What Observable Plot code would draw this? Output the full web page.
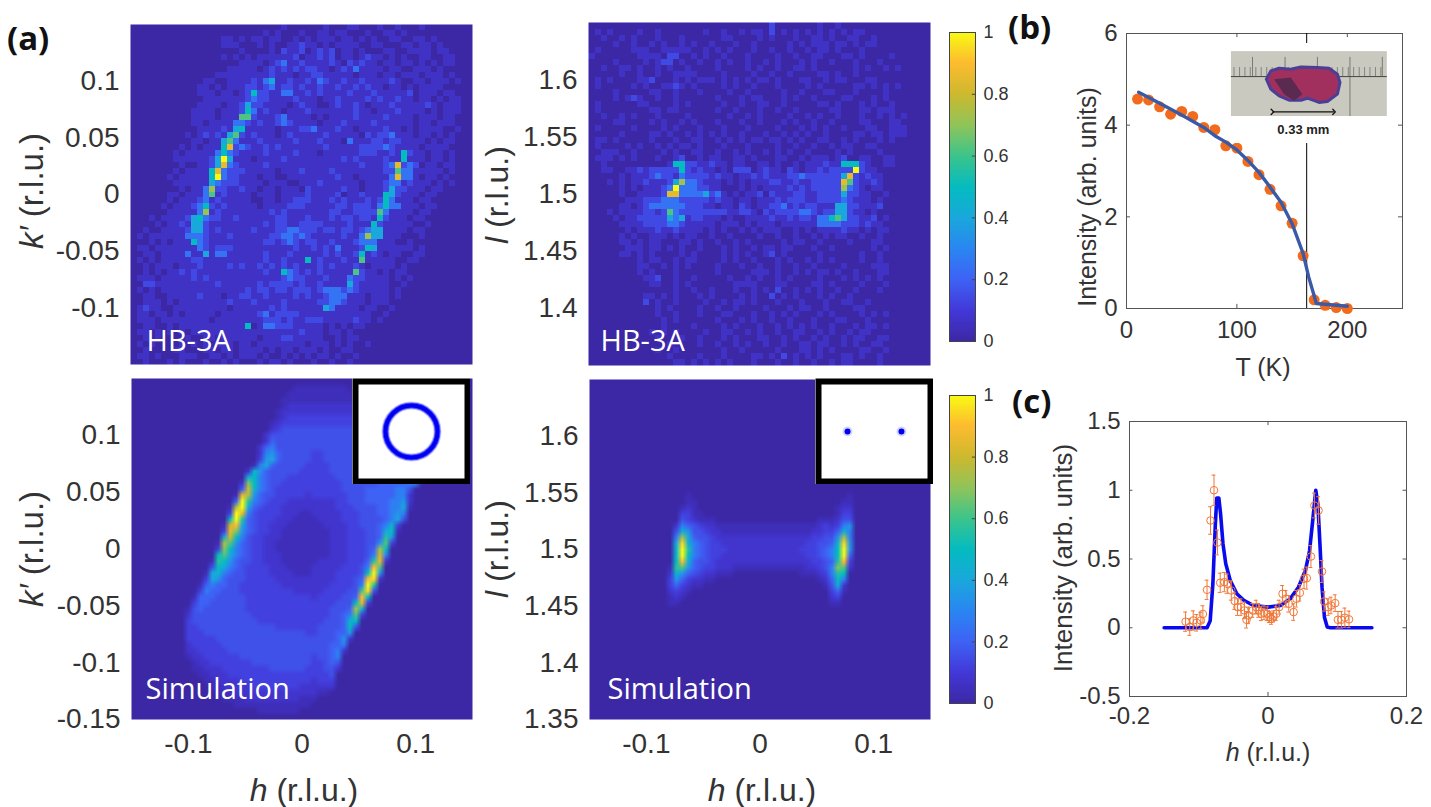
<!DOCTYPE html>
<html lang="en">
<head>
<meta charset="UTF-8">
<title>Magnetic scattering maps</title>
<style>
  html, body { margin: 0; background: #fff; overflow: hidden; }
  #page { position: relative; width: 1431px; height: 807px; font-family: "Liberation Sans", sans-serif; color: #333; }
  #page > * { position: absolute; }
  .lab { white-space: nowrap; transform: translate(-50%, -50%); }
  .tag { font-family: "Open Sans", sans-serif; font-weight: 700; line-height: 1; color: #111; }
</style>
<script src="https://cdn.jsdelivr.net/npm/d3@7"></script>
<script src="https://cdn.jsdelivr.net/npm/@observablehq/plot@0.6"></script>
</head>
<body>
<div id="page"></div>
<script>
// colormap, 0 to 1 in steps of 0.1
const cmap = ["#3c28a5", "#4338d8", "#3e62f5", "#2a86f2", "#1aa8dc", "#04bcc0", "#3cc48c", "#90c45a", "#cdb92e", "#fdbb30", "#f9fa14"];

// what each char in the map rows stands for
const expLevels = [0, .06, .14, .25, .4, .5, .62, .72, .85, 1];
const simLevels = [0, .04, .08, .12, .16, .2, .28, .34, .4, .45, .5, .56, .62, .68, .74, .8, .85, .9, .95, 1];

// HB-3A h-k' map, one char per cell, rows from the top
const expHK = [
"0000000000 0000000000 0000010000 0010001100 0100100010 0000000",
"0000000000 0000000000 0010100010 0110110001 0011010000 0000000",
"0000000000 0000011010 1101100101 0111011010 1001100110 1000000",
"0000000000 0000011100 0101001121 1010111100 1100011011 0100000",
"0000000000 0000000010 0001021120 1212011010 0011001111 0110000",
"0000000000 0000010101 0111111201 1212011012 1101010011 0011000",
"0000000000 0000000011 1101231121 1112102121 1011011010 1011000",
"0000000000 0000001111 1012121212 2110121311 1101100111 0100000",
"0000000000 0000111111 1112111011 2211111011 1011011101 1101000",
"0000000000 0011001111 2134112112 1321121121 1112100110 1110100",
"0000000000 0110101112 2123122121 1211211212 1101101011 1100000",
"0000000000 0111011012 5221133112 1211112111 2111112011 1011000",
"0000000000 0011111112 3221111211 1011211112 1211211011 0101100",
"0000000000 0111101124 2211110121 1001211210 1112111112 1011100",
"0000000000 1111011125 3121101112 1111111211 0111211110 1011100",
"0000000000 1111011166 2111231111 0101111211 1121111011 1011000",
"0000000000 1101111332 1211232111 1011121111 2111111011 0111000",
"0000000000 0111121451 1111011122 3111211011 1121101011 1100100",
"0000000001 0121214621 2111012111 1121111102 1223111011 0101000",
"0000000000 1101146311 1211111211 1211103111 2212211110 1011000",
"0000000010 1011158232 1121211111 1121111122 2232111101 1110000",
"0000000101 1111353211 1121111211 1011111122 2112152110 1101000",
"0000000111 1112494111 0111121111 1111121211 1121151110 1101000",
"0000000010 0112483211 1121111111 1111111121 1123823201 1011000",
"0000000101 1115832221 1111011121 1112111111 1122633111 1101000",
"0000001011 1115932211 1011001111 1111211011 1113833101 1010000",
"0000000111 1114322211 1101110011 1211111101 1123312111 0101000",
"0000000010 1137221121 1011011102 1111121101 1124221110 1100000",
"0000001101 1136121111 0111011112 1111201121 1154211101 1000000",
"0000001011 1231211111 0011011222 1112121112 1253111011 0000000",
"0000010111 2352121111 1011112221 1111221222 1353311101 1000000",
"0000001111 1371211111 1112121111 1112211222 2631111011 0000000",
"0001011112 4532211211 1111221112 1112122122 1521110110 0000000",
"0000101121 4421111111 1121221122 2211112111 5211111001 0000000",
"0010011112 4421211111 2111223322 2122122123 4411110110 0000000",
"0101111113 3321112111 1112233232 1111121137 4411100010 0000000",
"0001010111 5321111111 1122123212 2112111233 3111001000 0000000",
"0110111111 1321222111 1111111211 2121311125 4111111010 0000000",
"0011011113 1141331111 1121112111 1121211251 2101100110 0000000",
"0101011111 2211111111 1121121115 1211121161 1111001100 0000000",
"0010111011 1211112121 1212121211 1212111210 1111010000 0000000",
"0010101121 2111111111 1121153212 1211111621 1010110000 0000000",
"0111011111 2121111111 1111123221 1121113221 1110101000 0000000",
"0022111111 1111211111 1212222121 1211114211 1110010000 0000000",
"0101011111 1111111112 1221221222 1233323211 1110100000 0000000",
"0011001111 1211101122 1121111212 1123331110 1110100000 0000000",
"0011101011 1111112111 2111121111 1223321110 1110000000 0000000",
"0121100111 1111110111 1112121111 1143111101 1001000000 0000000",
"0110110101 1111011111 1231222211 1111111111 0010000000 0000000",
"0111011111 1110111111 1122212112 2211111211 0100000000 0000000",
"0011001011 1111111115 0133222111 1101010110 0000000000 0000000",
"0110101010 1111111111 1111111121 1101101000 0000000000 0000000",
"0010100001 0011011111 1011122111 1100101100 0000000000 0000000",
"0101000010 1010111011 0111111110 1110101001 0000000000 0000000",
"0010000110 0011011011 1101011011 1010011000 0000000000 0000000",
"0110100011 1001101011 1010010101 0110100100 0000000000 0000000",
"0010001010 0010010100 0101101000 1001001000 0000000000 0000000"
];

// HB-3A h-l map
const expHL = [
"0000000000 0000000000 0000000000 2000000010 0100000000 0000000",
"0101000010 0100000001 0010010110 2010101010 1010110000 0000000",
"0010010100 0100010000 0011000010 1000100110 1001100100 0000000",
"0000100100 1010010100 1000100100 0001010111 0110101100 0000000",
"0100000111 0011111001 0101000100 1001001011 0100010000 0000000",
"1000000011 1102200101 0010001000 0100100110 0011010000 1000000",
"0000100001 0122010010 0101001001 0100010100 1000100010 0000000",
"0010011010 0101001000 0100001010 0100110100 0000101001 0100000",
"0000010010 0100111100 0010000100 1001000011 0100100000 0000000",
"0101000011 2000101011 1010101011 0100011001 0110001100 0000000",
"0100000101 0011210100 0010100100 0100001010 0000110101 0100000",
"0000100000 1100100010 0001001000 0010010001 1000100001 0000000",
"0000101210 0100100000 0100010110 0010100100 0011000101 0000000",
"0100000011 0000101000 0010010011 0010000011 0100010100 1000000",
"0100000000 1101100000 0100100010 0100100000 1100011011 1000000",
"0010010100 0100001000 0001001010 0001001010 0100010010 1010000",
"0000110000 1010010100 0100010010 0010100100 1000011000 1100000",
"0100000100 0010100010 0010001000 0100010101 0010001100 1110000",
"0000010000 1101001010 1010010001 0010101001 0000110110 1110000",
"0110100000 1000100110 0101010110 1101010011 0010100010 1000000",
"0100001010 0101011010 0010001000 0100100100 1011001100 0000000",
"0011100100 0010100110 0100101001 0101001000 0101000010 0000000",
"0111010100 0100120010 1100110100 0110010111 0120011001 1000000",
"0010000000 0001552211 2110110011 0100101112 1155521001 1000000",
"0011001121 2222252121 1010222012 1102101121 2222921100 0000000",
"0000010111 2322132222 1211011212 1112232222 2248212110 0000000",
"0001010112 1112473321 1101010111 2211211222 2286211210 0000000",
"0000010101 1123933322 1100010101 1112121222 2273210110 0000000",
"0000010011 1128833334 2310101120 2111221122 2242211001 0000000",
"0000001112 2233322222 1211011011 1212221122 2232111010 0000000",
"0000011012 3333332221 1011021011 2231212211 1442211120 0000000",
"0001011112 2126322222 2221122102 1222233212 2442110100 0000000",
"0000101122 2224341221 1101001111 2112122133 5642211201 0000000",
"0000011112 2223321111 1011101011 1011111133 3322212110 0000000",
"0000001011 1211211110 1010010101 1100101011 1121101011 0000000",
"0000010100 1110101100 1001000010 0100100101 0110010010 0000000",
"0000011010 1100011010 0100101000 0010110010 0001000110 0000000",
"0000001110 1101010010 0010100101 1011000100 1000000101 0000000",
"0000011010 1000010100 0010101001 2010000010 0000010010 0000000",
"0000000010 1100101100 0010100100 0101001010 1000010010 0000000",
"0000000011 0010101000 0100010010 0100100100 0010000111 0000000",
"0000000010 1000100000 0100000111 0100101011 0100100011 0000000",
"0000000001 1200100100 0001001010 0101000010 0010101010 0000000",
"0000000000 1100101000 0000111100 0110000110 1000010001 0000000",
"0000000000 0000100100 1000100101 0200101010 0100100010 0000000",
"0000000001 1010100010 1000010100 2010100010 1001000000 0000000",
"0000000002 0100100001 0010110100 0100010001 0011001000 0000000",
"0000000000 0101000010 0100100001 0001011001 0000110000 0000000",
"0000000000 0100100010 0011000100 1010100010 1000010101 0000000",
"0000000000 0010100000 0100010100 1001000100 0110001000 0000000",
"0000000000 0010000100 0010100010 0101010100 1000101101 0000000",
"0000000000 1010100001 0011001010 0100110010 1001011000 0000000",
"0000000000 0100010010 0010100011 0010100101 0010110011 0000000",
"0000000000 0001000010 0100101001 0010011011 0010100110 0000000",
"0000000000 0100100000 0010010000 0100011010 1000011001 0000000",
"0000000000 0001000010 0010000110 1020101010 0011010010 0000000",
"0000000000 0000110101 0101000100 0100100100 1011000010 0000000"
];

// simulated h-k' map, one base-20 char per cell
const simHK = [
"",
"0000000000 0000000000 0000000111 1111110000",
"0000000000 0000000000 0000001111 1111111000",
"0000000000 0000000000 0000011111 1111111100",
"0000000000 0000000000 0000012222 2222222222 2000000000",
"0000000000 0000000000 0000122222 2222222222 2200000000",
"0000000000 0000000000 0000123333 3333333333 3330000000",
"0000000000 0000000000 0001233333 3333333333 3333000000",
"0000000000 0000000000 0002344444 4444444444 4444000000",
"0000000000 0000000000 0024444444 4444444444 4444400000",
"0000000000 0000000000 0025444444 4444444444 4444440000",
"0000000000 0000000000 0256444444 4444444444 4444440000",
"0000000000 0000000000 0267544444 3344444444 4444440000",
"0000000000 0000000000 0378544444 3344444444 4444440000",
"0000000000 0000000000 1685444443 3334444444 4444440000",
"0000000000 0000000002 9754444433 3334444444 4444450000",
"0000000000 0000000008 a654443333 3333444444 4445555000",
"0000000000 000000002d a654433333 3333344444 4555556600",
"0000000000 000000005f 9654333333 3333344445 5555664000",
"0000000000 0000000 1ge 7544333332 3333334445 5555662000",
"0000000000 0000000 5jb 6543332222 2222334445 5556672000",
"0000000000 000000 1ej8 5433322222 2222333444 4556681000",
"0000000000 000000 3jg6 4333322211 2222233344 4556760000",
"0000000000 000000 9jb5 4333222111 1222233344 4456840000",
"0000000000 00000 1fh85 4332221111 1122223344 4569300000",
"0000000000 00000 3gd75 4332211111 1112223334 458a100000",
"0000000000 00000 8fa64 3322211111 1112223334 45b7000000",
"0000000000 0000 1ec754 3322111111 1112223334 47c3000000",
"0000000000 0000 3da654 3322111111 1112223334 5ea0000000",
"0000000000 0000 ac8654 3322211111 1112223334 6f60000000",
"0000000000 000 1ba754 4 3322211111 1222223335 bg20000000",
"0000000000 000 4a8654 3 3332221111 2222233346 hc00000000",
"0000000000 00 1896 5443 3332222111 222233334a j700000000",
"0000000000 00 3875 4443 3333222222 222233345h i200000000",
"0000000000 0 15655 4433 3333322222 222333346j b000000000",
"0000000000 0 36554 4433 3333333222 22333344ci 4000000000",
"0000000000 1555444443 3333333333 2333344 5ha 0000000000",
"0000000000 3554444443 3333333333 3333444ag3 0000000000",
"0000000001 4544444443 3333333333 3334445e90 0000000000",
"0000000002 4444444444 3333333333 3334456c30 0000000000",
"0000000003 4444444444 4333333333 3344459a00 0000000000",
"0000000003 3444444444 4444333333 344445a400 0000000000",
"0000000003 3344444444 4444444443 3444557000 0000000000",
"0000000003 3333444444 4444444444 4444572000 0000000000",
"0000000002 3333344444 4444444444 4445560000 0000000000",
"0000000002 2333334444 4444444444 4445620000 0000000000",
"0000000001 2233333344 4444444444 3445600000 0000000000",
"0000000000 1223333333 4444444444 3345400000 0000000000",
"0000000000 1122233333 3334444443 3344200000 0000000000",
"0000000000 0112223333 3333333333 3334000000 0000000000",
"0000000000 0011222233 3333333333 2333000000 0000000000",
"0000000000 0001122222 3333333322 2222000000 0000000000",
"0000000000 0000111222 2222222222 2110000000 0000000000",
"0000000000 0000011112 2222222211 1000000000 0000000000",
"0000000000 0000000111 1111111111 0000000000 0000000000",
"0000000000 0000000000 0111111100 0000000000 0000000000",
""
];

// simulated h-l map
const simHL = Array(19).fill("").concat([
"0000000000 0000001000 0000000000 0000000000 0001000000",
"0000000000 0000001100 0000000000 0000000000 0011000000",
"0000000000 0000012100 0000000000 0000000000 0122000000",
"0000000000 0000033110 0000000000 0000000000 0133000000",
"0000000000 0000043211 1000000000 0000000011 1244000000",
"0000000000 0000265432 2111111111 1111111123 2367000000",
"0000000000 0000497443 2211111111 1111111223 3596000000",
"0000000000 00006e8544 3222222222 2222222334 47e6000000",
"0000000000 00008i9654 3322222222 2222223344 59i7000000",
"0000000000 00009jb654 3332222222 2222233345 6aj7000000",
"0000000000 00009ja654 3322222222 2222223345 6aj5000000",
"0000000000 0000ah9544 3222222222 2222222334 5bh3000000",
"0000000000 0001bc7543 3222111111 1111112234 6dc2000000",
"0000000000 0002975432 2111000000 0000011123 6ba0000000",
"0000000000 0003753221 1000000000 0000000012 5a60000000",
"0000000000 0003532110 0000000000 0000000001 4820000000",
"0000000000 0002321000 0000000000 0000000000 3510000000",
"0000000000 0001210000 0000000000 0000000000 2300000000",
"0000000000 0001100000 0000000000 0000000000 1100000000"
]);

const hkTicks = [-0.1, -0.05, 0, 0.05, 0.1];
const hTicks = [-0.1, 0, 0.1];
const lTicks = [1.4, 1.45, 1.5, 1.55, 1.6];
const barTicks = [0, 0.2, 0.4, 0.6, 0.8, 1];

// panel (b)
const tempK = [10, 20, 30, 40, 50, 60, 70, 80, 90, 100, 110, 120, 130, 140, 150, 160, 170, 180, 190, 200];
const tempI = [4.57, 4.55, 4.40, 4.24, 4.30, 4.19, 3.95, 3.90, 3.55, 3.50, 3.21, 2.92, 2.60, 2.24, 1.86, 1.15, 0.19, 0.07, 0.02, 0];
const fitK = [11, 30, 50, 70, 80, 90, 100, 110, 120, 130, 140, 150, 160, 165, 172, 200];
const fitI = [4.72, 4.48, 4.22, 3.95, 3.77, 3.63, 3.46, 3.23, 2.97, 2.65, 2.32, 1.85, 1.2, 0.69, 0.11, 0.05];
const tcK = 163.2;

// panel (b) photo, lengths in mm
const rulerMinor = [0.014, 0.044, 0.073, 0.102, 0.132, 0.161, 0.191, 0.220, 0.250, 0.279, 0.308, 0.338, 0.367, 0.397, 0.426, 0.455, 0.485, 0.514, 0.544, 0.573, 0.602, 0.632, 0.661, 0.691, 0.720, 0.749, 0.779, 0.808];
const rulerMajor = [0.114, 0.29, 0.465, 0.641, 0.816];
const crystalX = [0.189, 0.213, 0.258, 0.321, 0.375, 0.465, 0.528, 0.573, 0.587, 0.573, 0.519, 0.474, 0.411, 0.375, 0.312, 0.258, 0.213, 0.189];
const crystalY = [0.202, 0.247, 0.261, 0.256, 0.268, 0.265, 0.261, 0.229, 0.184, 0.121, 0.081, 0.076, 0.099, 0.088, 0.088, 0.112, 0.148, 0.202];
const patchX = [0.231, 0.321, 0.384, 0.339, 0.285, 0.231];
const patchY = [0.202, 0.211, 0.121, 0.085, 0.121, 0.202];

// panel (c)
const cutH = [-.119, -.113, -.108, -.103, -.097, -.094, -.088, -.083, -.078, -.073, -.069, -.063, -.059, -.053, -.048, -.044, -.039, -.034, -.031, -.028, -.022, -.017, -.0135, -.0097, -.0058, -.001, .002, .005, .008, .012, .016, .021, .026, .030, .037, .041, .046, .052, .056, .062, .067, .073, .078, .081, .087, .091, .097, .101, .106, .111, .117];
const cutI = [.044, .005, .053, .036, .053, .1, .276, .78, 1, .62, .327, .332, .32, .271, .194, .15, .15, .126, .058, .09, .126, .15, .126, .102, .109, .102, .078, .065, .082, .102, .15, .247, .211, .174, .114, .211, .254, .356, .361, .518, .889, .853, .409, .191, .15, .162, .179, .058, .058, .073, .061];
const cutE = [.07, .06, .07, .06, .06, .06, .07, .1, .11, .09, .07, .07, .07, .07, .06, .06, .06, .06, .06, .06, .05, .05, .05, .05, .05, .05, .04, .04, .04, .05, .05, .06, .06, .06, .06, .06, .06, .07, .08, .08, .09, .1, .08, .07, .06, .06, .06, .06, .06, .07, .06];
const modelH = [-.15, -.088, -.0835, -.0796, -.076, -.074, -.071, -.0685, -.065, -.061, -.0545, -.045, -.035, -.021, 0, .018, .032, .044, .054, .06, .065, .069, .072, .075, .078, .0815, .0855, .09, .15];
const modelI = [0, 0, .05, .32, .755, .944, .944, .83, .61, .465, .344, .247, .2, .162, .15, .162, .21, .295, .416, .56, .8, 1, .9, .61, .295, .077, .005, 0, 0];

const page = document.getElementById("page");
const color = {type: "linear", domain: [0, 1], interpolate: d3.piecewise(d3.interpolateRgb, cmap)};
const fmt = d => String(d);
const N = 57;

function toGrid(rows, base, levels) {
  return Array.from({length: N}, (_, i) => {
    const r = (rows[i] || "").replace(/ /g, "").padEnd(N, "0").slice(0, N);
    return Array.from(r, c => levels[parseInt(c, base)]);
  }).flat();
}

function put(el, left, top) {
  el.style.left = left + "px";
  el.style.top = top + "px";
  page.appendChild(el);
}

function label(html, x, y, size, rotate, cls) {
  const d = document.createElement("div");
  d.className = cls || "lab";
  d.innerHTML = html;
  d.style.fontSize = size + "px";
  if (rotate) d.style.transform = "translate(-50%, -50%) rotate(-90deg)";
  put(d, x, y);
}

function heat(o) {
  const ml = 90, mb = 60, mt = 14, mr = 4;
  const marks = [
    Plot.raster(toGrid(o.rows, o.base, o.levels), {width: N, height: N, fill: d => d, x1: o.x[0], x2: o.x[1], y1: o.y[1], y2: o.y[0], imageRendering: o.smooth ? "auto" : "pixelated"}),
    Plot.axisY(o.yTicks, {anchor: "left", tickSize: 0, tickPadding: 11, label: null, tickFormat: fmt})
  ];
  if (o.xTicks) marks.push(Plot.axisX(o.xTicks, {anchor: "bottom", tickSize: 0, tickPadding: 14, label: null, tickFormat: fmt}));
  else marks.push(Plot.axisX({ticks: [], label: null}));
  marks.push(Plot.text([o.tag], {frameAnchor: "bottom-left", dx: o.tagDx, dy: o.tagDy, lineAnchor: "bottom", fill: "#fff", fontSize: 29, fontFamily: "Open Sans"}));
  const svg = Plot.plot({
    width: o.w + ml + mr, height: o.h + mt + mb, marginLeft: ml, marginRight: mr, marginTop: mt, marginBottom: mb,
    x: {domain: o.x}, y: {domain: o.y}, color,
    style: {background: "transparent", color: "#333", fontSize: "28px", fontFamily: "Liberation Sans", overflow: "visible"},
    marks
  });
  put(svg, o.left - ml, o.top - mt);
}

function bar(left, top, h) {
  const svg = Plot.plot({
    width: 26 + 50, height: h + 20, marginLeft: 0, marginRight: 50, marginTop: 10, marginBottom: 10,
    x: {domain: [0, 1], axis: null}, y: {domain: [0, 1]}, color,
    style: {background: "transparent", color: "#333", fontSize: "18px", fontFamily: "Liberation Sans", overflow: "visible"},
    marks: [
      Plot.raster({width: 1, height: 128, fill: (x, y) => y, x1: 0, x2: 1, y1: 0, y2: 1, imageRendering: "auto"}),
      Plot.frame({stroke: "#444"}),
      Plot.ruleY(barTicks, {x1: 0.88, x2: 1, stroke: "#444"}),
      Plot.axisY(barTicks, {anchor: "right", tickSize: 0, tickPadding: 8, label: null, tickFormat: fmt})
    ]
  });
  put(svg, left, top - 10);
}

function inset(left, top, marks) {
  const svg = Plot.plot({
    width: 118, height: 106, margin: 0,
    x: {domain: [-0.1532, 0.1532], axis: null}, y: {domain: [-0.1377, 0.1377], axis: null},
    style: {background: "#fff"},
    marks: [...marks, Plot.frame({stroke: "#000", strokeWidth: 6, inset: 3})]
  });
  put(svg, left, top);
}

// 2D maps
heat({left: 130, top: 24, w: 342, h: 340, x: [-0.15, 0.15], y: [-0.15, 0.15], rows: expHK, base: 10, levels: expLevels, yTicks: hkTicks, tag: "HB-3A", tagDx: 16, tagDy: -14});
heat({left: 588, top: 22, w: 342, h: 343, x: [-0.15, 0.15], y: [1.35, 1.65], rows: expHL, base: 10, levels: expLevels, yTicks: lTicks, tag: "HB-3A", tagDx: 12, tagDy: -15});
heat({left: 131, top: 378, w: 341, h: 341, x: [-0.15, 0.15], y: [-0.15, 0.15], rows: simHK, base: 20, levels: simLevels, smooth: true, yTicks: [-0.15, ...hkTicks], xTicks: hTicks, tag: "Simulation", tagDx: 14, tagDy: -21});
heat({left: 589, top: 379, w: 341, h: 340, x: [-0.15, 0.15], y: [1.35, 1.65], rows: simHL, base: 20, levels: simLevels, smooth: true, yTicks: [1.35, ...lTicks], xTicks: hTicks, tag: "Simulation", tagDx: 18, tagDy: -21});

bar(949, 32, 309);
bar(949, 395, 308);

inset(352, 378, [
  Plot.dot([0], {x: [0], y: [0], r: 26, stroke: "#c8c8ff", strokeWidth: 8}),
  Plot.dot([0], {x: [0], y: [0], r: 26, stroke: "#5050ff", strokeWidth: 6}),
  Plot.dot([0], {x: [0], y: [0], r: 26, stroke: "#0000f0", strokeWidth: 4})
]);
inset(815, 378, [
  Plot.dot([-0.07, 0.07], {x: [-0.07, 0.07], y: [0, 0], r: 5, fill: "#d4d4ff"}),
  Plot.dot([-0.07, 0.07], {x: [-0.07, 0.07], y: [0, 0], r: 3, fill: "#0000f0"})
]);

// (b) intensity against temperature
put(Plot.plot({
  width: 276 + 70, height: 275 + 50, marginLeft: 50, marginRight: 20, marginTop: 10, marginBottom: 40,
  x: {domain: [0, 250]}, y: {domain: [0, 6]},
  style: {background: "transparent", color: "#333", fontSize: "24px", fontFamily: "Liberation Sans", overflow: "visible"},
  marks: [
    Plot.frame({stroke: "#555"}),
    Plot.ruleX([100, 200], {y1: 0, y2: 0.09, stroke: "#555"}),
    Plot.ruleX([100, 200], {y1: 5.91, y2: 6, stroke: "#555"}),
    Plot.ruleY([2, 4], {x1: 0, x2: 3.6, stroke: "#555"}),
    Plot.ruleY([2, 4], {x1: 246.4, x2: 250, stroke: "#555"}),
    Plot.ruleX([tcK], {stroke: "#000", strokeWidth: 1}),
    Plot.axisX([0, 100, 200], {anchor: "bottom", tickSize: 0, tickPadding: 12, label: null, tickFormat: fmt}),
    Plot.axisY([0, 2, 4, 6], {anchor: "left", tickSize: 0, tickPadding: 9, label: null, tickFormat: fmt}),
    Plot.dot(tempK, {x: tempK, y: tempI, r: 5.5, fill: "#f26b1d"}),
    Plot.line(fitK, {x: fitK, y: fitI, stroke: "#3a5aa8", strokeWidth: 3.4})
  ]
}), 1126 - 50, 33 - 10);

// (b) photo of the crystal
put(Plot.plot({
  width: 157, height: 100, margin: 0,
  x: {domain: [-0.005, 0.844], axis: null}, y: {domain: [-0.146, 0.395], axis: null},
  style: {background: "#fff", overflow: "visible"},
  marks: [
    Plot.rect([0], {x1: 0, x2: 0.843, y1: 0, y2: 0.351, fill: "#c9c9bf"}),
    Plot.ruleX(rulerMinor, {y1: 0.216, y2: 0.265, stroke: "#666", strokeWidth: 0.7}),
    Plot.ruleX(rulerMajor, {y1: 0.216, y2: 0.32, stroke: "#666", strokeWidth: 0.8}),
    Plot.ruleX([0.641], {y1: 0, y2: 0.216, stroke: "#777"}),
    Plot.ruleY([0.216], {x1: 0, x2: 0.843, stroke: "#444"}),
    Plot.line(crystalX, {x: crystalX, y: crystalY, fill: "#a1305f", stroke: "#4a3f95", strokeWidth: 3}),
    Plot.line(patchX, {x: patchX, y: patchY, fill: "#5b2a50", stroke: "none"}),
    Plot.link([0], {x1: 0.222, x2: 0.555, y1: 0.025, y2: 0.025, stroke: "#111", strokeWidth: 1.3, markerStart: "arrow", markerEnd: "arrow"}),
    Plot.text(["0.33 mm"], {x: [0.389], y: [-0.07], fontSize: 13, fontWeight: "bold", fill: "#222", fontFamily: "Liberation Sans"})
  ]
}), 1230, 43);

// (c) cut through the map
put(Plot.plot({
  width: 277 + 80, height: 275 + 50, marginLeft: 60, marginRight: 20, marginTop: 10, marginBottom: 40,
  x: {domain: [-0.2, 0.2]}, y: {domain: [-0.5, 1.5]},
  style: {background: "transparent", color: "#333", fontSize: "24px", fontFamily: "Liberation Sans", overflow: "visible"},
  marks: [
    Plot.frame({stroke: "#555"}),
    Plot.ruleX([0], {y1: -0.5, y2: -0.47, stroke: "#555"}),
    Plot.ruleX([0], {y1: 1.47, y2: 1.5, stroke: "#555"}),
    Plot.ruleY([0, 0.5, 1], {x1: -0.2, x2: -0.195, stroke: "#555"}),
    Plot.ruleY([0, 0.5, 1], {x1: 0.195, x2: 0.2, stroke: "#555"}),
    Plot.axisX([-0.2, 0, 0.2], {anchor: "bottom", tickSize: 0, tickPadding: 10, label: null, tickFormat: fmt}),
    Plot.axisY([-0.5, 0, 0.5, 1, 1.5], {anchor: "left", tickSize: 0, tickPadding: 9, label: null, tickFormat: fmt}),
    Plot.line(modelH, {x: modelH, y: modelI, stroke: "#0a0aee", strokeWidth: 3.6}),
    Plot.ruleX(cutH, {x: cutH, y1: (d, i) => cutI[i] - cutE[i], y2: (d, i) => cutI[i] + cutE[i], stroke: "#f07838", strokeWidth: 1}),
    Plot.ruleY(cutH, {y: (d, i) => cutI[i] - cutE[i], x1: d => d - 0.0028, x2: d => d + 0.0028, stroke: "#f07838", strokeWidth: 1}),
    Plot.ruleY(cutH, {y: (d, i) => cutI[i] + cutE[i], x1: d => d - 0.0028, x2: d => d + 0.0028, stroke: "#f07838", strokeWidth: 1}),
    Plot.dot(cutH, {x: cutH, y: cutI, r: 3.8, stroke: "#f07838", strokeWidth: 1})
  ]
}), 1129 - 60, 421 - 10);

// axis titles and panel letters, kept as html for the italics
label("<i>k′</i> (r.l.u.)", 32, 191, 33, true);
label("<i>l</i> (r.l.u.)", 497, 195, 32, true);
label("<i>k′</i> (r.l.u.)", 32, 549, 33, true);
label("<i>l</i> (r.l.u.)", 497, 549, 32, true);
label("<i>h</i> (r.l.u.)", 304, 790, 32);
label("<i>h</i> (r.l.u.)", 762, 790, 32);
label("Intensity (arb. units)", 1087, 197, 25, true);
label("T (K)", 1263, 367, 25);
label("Intensity (arb. units)", 1063, 558, 26, true);
label("<i>h</i> (r.l.u.)", 1268, 752, 25);
label("(a)", 7, 21, 33, false, "tag");
label("(b)", 1008, 10, 33, false, "tag");
label("(c)", 1012, 384, 33, false, "tag");
</script>
</body>
</html>
